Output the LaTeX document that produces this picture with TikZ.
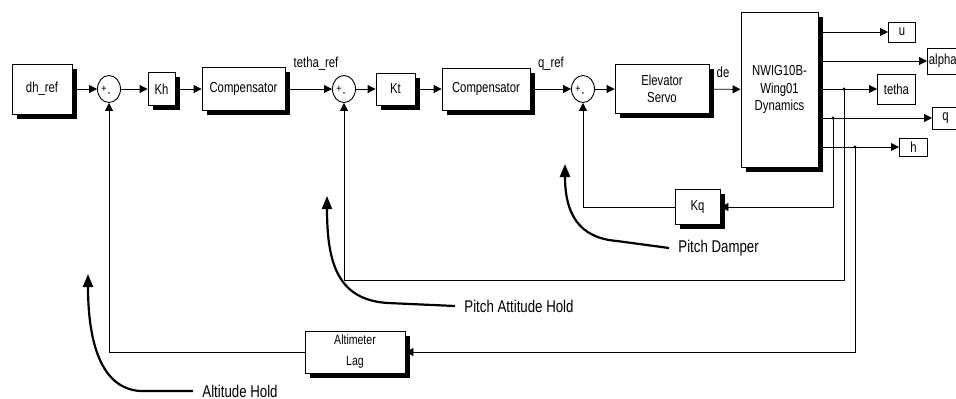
\documentclass[tikz,border=0pt]{standalone}
\usepackage{fontspec}
\setmainfont{Liberation Sans}[FakeStretch=0.78]
\usetikzlibrary{arrows.meta,shadows,shapes.geometric}
\tikzset{
  blk/.style={draw, fill=white, line width=0.9pt, inner sep=0pt, align=center,
    drop shadow={shadow xshift=4.5pt, shadow yshift=-4.5pt, fill=black, opacity=1}},
  outbox/.style={draw, fill=white, line width=0.9pt, inner sep=0pt},
  sumj/.style={draw, ellipse, line width=0.9pt, minimum width=23pt, minimum height=27pt, inner sep=0pt},
  sgn/.style={font=\fontsize{11.5}{11.5}\selectfont, inner sep=0pt},
  note/.style={line width=2.2pt, -{Triangle[length=13pt,width=10pt]}},
  lbl/.style={font=\fontsize{17}{17}\selectfont, anchor=west, inner sep=0pt}
}
\begin{document}
\begin{tikzpicture}[x=1pt, y=-1pt, >={Triangle[length=8pt,width=8pt]}, line width=0.9pt,
  font=\fontsize{14.5}{17.5}\selectfont]
\clip (0,0) rectangle (956,399);
\fill[white] (0,0) rectangle (956,399);
\node[blk, minimum width=60pt, minimum height=50pt] (dhref) at (42,89) {dh\_ref};
\node[sumj] (s1) at (109,89) {};
\node[blk, minimum width=27pt, minimum height=33pt] (kh) at (161.5,89) {Kh};
\node[blk, minimum width=83pt, minimum height=43pt] (comp1) at (243.5,89) {Compensator};
\node[sumj] (s2) at (344,89) {};
\node[blk, minimum width=39pt, minimum height=32pt] (kt) at (395.5,89) {Kt};
\node[blk, minimum width=88pt, minimum height=42pt] (comp2) at (486,89) {Compensator};
\node[sumj] (s3) at (583,89) {};
\node[blk, minimum width=94pt, minimum height=49pt] (servo) at (662,89) {Elevator\\Servo};
\node[blk, minimum width=77pt, minimum height=155pt] (dyn) at (779.5,89.5) {NWIG10B-\\Wing01\\Dynamics};
\node[blk, minimum width=45pt, minimum height=35pt] (kq) at (697.5,207) {Kq};
\node[blk, minimum width=100pt, minimum height=42pt, font=\fontsize{13.5}{21}\selectfont] (alt) at (355,352) {Altimeter\\Lag};
\foreach \s in {s1,s2,s3} {
  \node[sgn] (\s-p) at ([xshift=-5pt]\s.center) {+};
  \node[sgn] (\s-m) at ([yshift=-6pt]\s.center) {-};
}
\node (trlbl) at (316,64) {tetha\_ref};
\node (qrlbl) at (551,64) {q\_ref};
\node (delbl) at (723,72) {de};
\foreach \nm/\xx/\yy/\ww/\hh in {u/888/32/27/20, tetha/877/89/38/30, q/932/118/26/22, h/899/147/28/18}
  \node[outbox, anchor=west, minimum width=\ww pt, minimum height=\hh pt] (\nm) at (\xx,\yy) {\nm};
\node[outbox, anchor=west, minimum height=26pt, inner xsep=1.5pt] (alpha) at (927,61) {alpha};
\draw[->] (dhref) -- (s1);
\draw[->] (s1) -- (kh);
\draw[->] (kh) -- (comp1);
\draw[->] (comp1) -- (s2);
\draw[->] (s2) -- (kt);
\draw[->] (kt) -- (comp2);
\draw[->] (comp2) -- (s3);
\draw[->] (s3) -- (servo);
\draw[->] (servo) -- (dyn);
\foreach \nm in {u,alpha,tetha,q,h}
  \draw[->] (dyn.east |- \nm.west) -- (\nm.west);
\coordinate (bq) at (833,118);
\coordinate (bt) at (844,89);
\coordinate (bh) at (855,147);
\coordinate (ct) at (844,280);
\foreach \b in {bq,bt,bh} \fill (\b) circle (1.6);
\draw[->] (bq) |- (kq.east);
\draw[->] (kq.west) -| (s3.south);
\draw[->] (bt) -- (ct) -| (s2.south);
\draw[->] (bh) |- (alt.east);
\draw[->] (alt.west) -| (s1.south);
\node[lbl] (pdlbl) at (678,248) {Pitch Damper};
\node[lbl] (palbl) at (464,306) {Pitch Attitude Hold};
\node[lbl] (ahlbl) at (202,391) {Altitude Hold};
\coordinate (tpd) at (565,164);
\coordinate (tpa) at (327,196);
\coordinate (tah) at (88,274);
\draw[note] ([xshift=-9pt]pdlbl.west) -- (617,241) .. controls (579,238) and (565,214) .. (tpd);
\draw[note] ([xshift=-9pt]palbl.west) -- (388,303) .. controls (337,300) and (327,262) .. (tpa);
\draw[note] ([xshift=-9pt]ahlbl.west) -- (140,391) .. controls (96,388) and (88,330) .. (tah);
\end{tikzpicture}
\end{document}
